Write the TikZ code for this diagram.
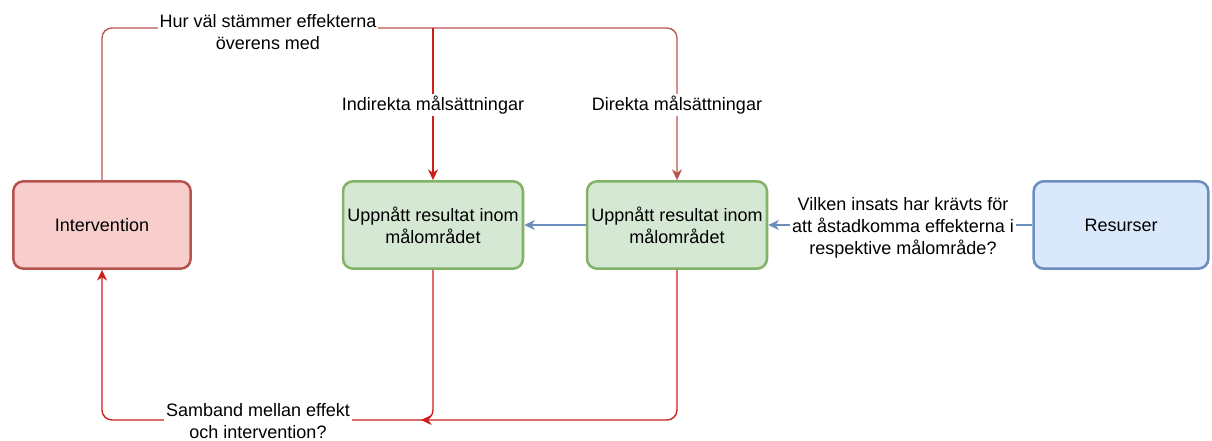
\documentclass[tikz,border=0pt]{standalone}
\usepackage{fontspec}
\setmainfont{Liberation Sans}
\usetikzlibrary{arrows.meta}
\definecolor{redfill}{HTML}{F8CECC}
\definecolor{redline}{HTML}{B85450}
\definecolor{darkred}{HTML}{CC1F1A}
\definecolor{greenfill}{HTML}{D5E8D4}
\definecolor{greenline}{HTML}{82B366}
\definecolor{bluefill}{HTML}{DAE8FC}
\definecolor{blueline}{HTML}{6C8EBF}
\begin{document}
\begin{tikzpicture}[x=0.75pt,y=-0.75pt,>={Stealth[length=8pt,width=7.5pt,inset=2.5pt]},
  font=\fontsize{13.5}{16.5}\selectfont,
  box/.style={rounded corners=7.5pt,line width=1.9pt,minimum width=133pt,minimum height=65.5pt,align=center},
  redbox/.style={box,draw=redline,fill=redfill},
  greenbox/.style={box,draw=greenline,fill=greenfill},
  bluebox/.style={box,draw=blueline,fill=bluefill},
  conn/.style={line width=1pt,rounded corners=7.5pt},
  lbl/.style={fill=white,align=center,inner sep=1.5pt}]
\useasboundingbox (0,0) rectangle (1212,441);
\node[redbox](interv) at (102,225) {Intervention};
\node[greenbox](indir) at (433,225) {Uppnått resultat inom\\målområdet};
\node[greenbox](dir) at (677,225) {Uppnått resultat inom\\målområdet};
\node[bluebox,minimum width=131pt](res) at (1121,225) {Resurser};
\coordinate (topsplit) at (433,28);
\coordinate (botleft) at (102,420);
\coordinate (botjoin) at (421,420);
% upper loop
\draw[conn,redline,->](interv.north)|-(topsplit)-|(dir.north);
\draw[conn,darkred,->](topsplit)--(indir.north);
% lower loop
\draw[conn,darkred,->](indir.south)|-(botleft)--(interv.south);
\draw[conn,darkred,->](dir.south)|-(botjoin);
% resources
\draw[conn,blueline,->](res.west)--(dir.east);
\draw[conn,blueline,->](dir.west)--(indir.east);
% labels
\node[lbl](qhur) at (268,32) {Hur väl stämmer effekterna\\överens med};
\node[lbl](qindir) at (433,105) {Indirekta målsättningar};
\node[lbl](qdir) at (677,105) {Direkta målsättningar};
\node[lbl](qvilken) at (903,228) {Vilken insats har krävts för\\att åstadkomma effekterna i\\respektive målområde?};
\node[lbl](qsamband) at (258,421) {Samband mellan effekt\\och intervention?};
\end{tikzpicture}
\end{document}
